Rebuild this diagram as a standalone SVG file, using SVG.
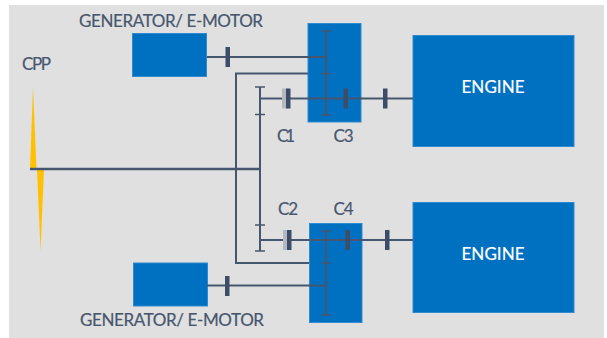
<svg xmlns="http://www.w3.org/2000/svg" width="607" height="338" viewBox="0 0 607 338">
<style>
.box{fill:#0070c0;stroke:#2f8ad0;stroke-width:1}
.shaft{fill:none;stroke:#47566f;stroke-width:2}
.tick{fill:none;stroke:#47566f;stroke-width:1.6}
.clutch{fill:#3d4d68}
.ghost{fill:#b4b8bf}
text{font-family:"Lato","Liberation Sans",sans-serif;font-size:17px;fill:#47566f;stroke:#47566f;stroke-width:.2}
.w{fill:#fff;stroke:#fff}
</style>
<rect width="607" height="338" fill="#fff"/>
<rect x="9" y="5" width="595" height="333" fill="#e0e0e0"/>
<g id="cpp">
<polygon points="33,87 30,169 36.500,169" fill="#ffc000"/>
<polygon points="40.500,251 37,169 44,169" fill="#ffc000"/>
<text x="22" y="70" textLength="29">CPP</text>
</g>
<g id="generator-top">
<rect class="box" x="132.500" y="33.500" width="74" height="43"/>
<text x="79" y="27" textLength="184">GENERATOR/ E-MOTOR</text>
</g>
<g id="generator-bottom">
<rect class="box" x="133.500" y="263" width="74" height="43"/>
<text x="80" y="325.500" textLength="184">GENERATOR/ E-MOTOR</text>
</g>
<g id="gearbox-c3">
<rect class="box" x="308" y="23.500" width="53" height="98.500"/>
<text x="333.500" y="141.500" textLength="20">C3</text>
</g>
<g id="gearbox-c4">
<rect class="box" x="309.500" y="223.500" width="52.500" height="99"/>
<text x="333.500" y="214.500" textLength="20">C4</text>
</g>
<g id="engine-top">
<rect class="box" x="413" y="35.500" width="161" height="111"/>
<text class="w" x="461.500" y="92.500" textLength="63">ENGINE</text>
</g>
<g id="engine-bottom">
<rect class="box" x="413" y="202.500" width="161" height="110"/>
<text class="w" x="461.500" y="259.500" textLength="63">ENGINE</text>
</g>
<g id="clutch-c1"><text x="277" y="141.500" textLength="18">C1</text></g>
<g id="clutch-c2"><text x="278" y="214.500" textLength="20">C2</text></g>
<g id="connectors">
<path class="shaft" style="stroke-width:2.500" d="M30 169H260"/>
<path class="shaft" d="M207 57H326M308 73.500H236V263H309M207 285.500H326M260 87V251M260 98.500H413M260 240H413M326 31V115M326 231V315"/>
<path class="tick" d="M321 31H331M321 73.500H331M321 115H331M255 87H265M255 114.500H265M255 225H265M255 251H265M321 231H331M321 263H331M321 315H331"/>
<rect class="ghost" x="282" y="88.500" width="6" height="20"/>
<rect class="ghost" x="283" y="230" width="6" height="20"/>
<rect class="clutch" x="225.500" y="47" width="4.500" height="20"/>
<rect class="clutch" x="286" y="88.500" width="4.500" height="20"/>
<rect class="clutch" x="343.500" y="88.500" width="4.500" height="20"/>
<rect class="clutch" x="383" y="88.500" width="4.500" height="20"/>
<rect class="clutch" x="287" y="230" width="4.500" height="20"/>
<rect class="clutch" x="345.500" y="230" width="4.500" height="20"/>
<rect class="clutch" x="385" y="230" width="4.500" height="20"/>
<rect class="clutch" x="225" y="276" width="4.500" height="20"/>
</g>
</svg>
